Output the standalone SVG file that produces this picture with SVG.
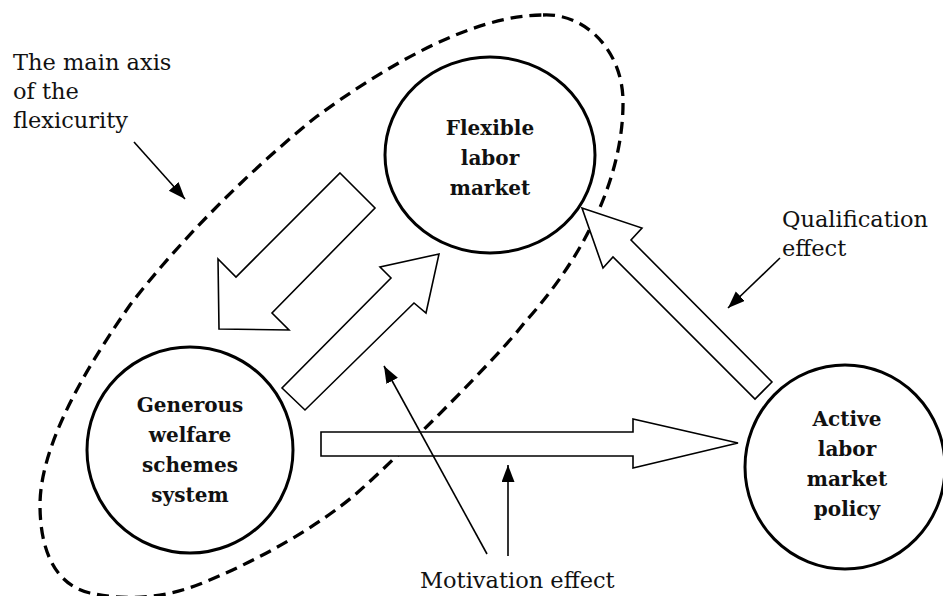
<svg xmlns="http://www.w3.org/2000/svg" width="943" height="596" viewBox="0 0 943 596">
<style>
.node{fill:#fff;stroke:#000;stroke-width:3}
.lbl{font-family:"DejaVu Serif","Liberation Serif",serif;font-size:20px;font-weight:bold;text-anchor:middle;fill:#111}
.note{font-family:"DejaVu Serif","Liberation Serif",serif;font-size:22.5px;fill:#111}
.block{fill:#fff;stroke:#000;stroke-width:1.6;stroke-linejoin:miter}
.ptr{fill:none;stroke:#000;stroke-width:1.6}
.axis{fill:none;stroke:#000;stroke-width:3.3;stroke-dasharray:12 7}
</style>
<defs>
<marker id="ah" markerUnits="userSpaceOnUse" markerWidth="20" markerHeight="14" refX="17" refY="6.5" orient="auto">
<path d="M0,0 L17,6.5 L0,13 z" fill="#000"/>
</marker>
</defs>
<rect width="943" height="596" fill="#fff"/>
<g id="axis-region">
<path class="axis" d="M543,15 C585,13 622,50 623,100 C624,170 590,250 525,322 C500,355 400,455 357,493 C320,525 260,560 200,584 C160,600 120,600 90,593 C55,585 40,550 40,505 C40,440 95,355 130,305 C180,240 250,170 316,117 C380,70 470,15 543,15 Z"/>
</g>
<g id="node-flexible">
<ellipse class="node" cx="490" cy="155" rx="105" ry="98"/>
<text class="lbl" x="490" y="135">Flexible</text>
<text class="lbl" x="490" y="165">labor</text>
<text class="lbl" x="490" y="195">market</text>
</g>
<g id="node-generous">
<ellipse class="node" cx="190" cy="450" rx="103" ry="103"/>
<text class="lbl" x="190" y="412">Generous</text>
<text class="lbl" x="190" y="442">welfare</text>
<text class="lbl" x="190" y="472">schemes</text>
<text class="lbl" x="190" y="502">system</text>
</g>
<g id="node-active">
<ellipse class="node" cx="845" cy="467" rx="100" ry="102"/>
<text class="lbl" x="847" y="426">Active</text>
<text class="lbl" x="847" y="456">labor</text>
<text class="lbl" x="847" y="486">market</text>
<text class="lbl" x="847" y="516">policy</text>
</g>
<g id="connectors">
<polygon class="block" points="340,173 375,208 272,313 289,330 219,329 218,259 236,277"/>
<polygon class="block" points="282,388 305,410 414,303 426,313 439,254 380,267 391,278"/>
<polygon class="block" points="772,382 755,399 613,257 603,268 582,208 642,228 631,240"/>
<polygon class="block" points="321,432 633,432 633,419 738,443 633,468 633,456 321,456"/>
<line class="ptr" x1="134" y1="142" x2="185" y2="199" marker-end="url(#ah)"/>
<line class="ptr" x1="780" y1="258" x2="728" y2="308" marker-end="url(#ah)"/>
<line class="ptr" x1="487" y1="554" x2="384" y2="366" marker-end="url(#ah)"/>
<line class="ptr" x1="508" y1="556" x2="508" y2="465" marker-end="url(#ah)"/>
</g>
<g id="labels">
<text class="note" x="13" y="70">The main axis</text>
<text class="note" x="13" y="99">of the</text>
<text class="note" x="13" y="128">flexicurity</text>
<text class="note" x="782" y="227">Qualification</text>
<text class="note" x="782" y="256">effect</text>
<text class="note" x="420" y="588">Motivation effect</text>
</g>
</svg>
